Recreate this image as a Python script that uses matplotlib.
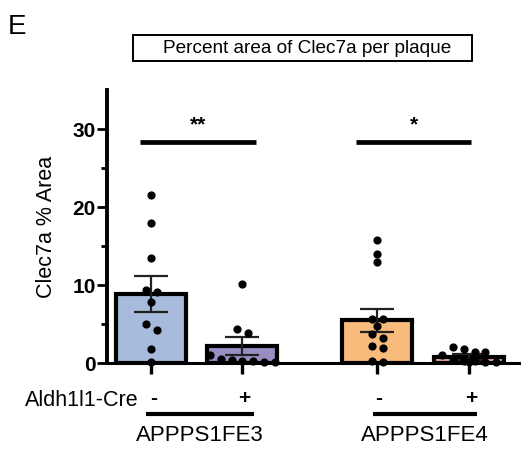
import numpy as np
import matplotlib
matplotlib.use("Agg")
from matplotlib import pyplot as plt
from matplotlib.patches import Rectangle

plt.rcParams['font.family'] = ['Liberation Sans', 'DejaVu Sans']

# data
groups = ["APPPS1FE3", "APPPS1FE4"]
cre = ["-", "+", "-", "+"]
means = [8.9, 2.2, 5.5, 0.8]
sems = [2.3, 1.2, 1.5, 0.4]
pts_fe3_neg = [21.6, 17.9, 13.5, 9.4, 9.1, 7.8, 5.0, 4.2, 1.8, 0.2]
pts_fe3_pos = [10.2, 4.4, 3.9, 1.0, 0.5, 0.4, 0.3, 0.3, 0.2, 0.2]
pts_fe4_neg = [15.8, 14.0, 12.9, 5.7, 5.7, 4.8, 3.7, 3.2, 2.2, 2.0, 0.3, 0.2]
pts_fe4_pos = [2.1, 1.75, 1.45, 1.45, 1.0, 0.4, 0.3, 0.3, 0.2, 0.2, 0.1]
points = [pts_fe3_neg, pts_fe3_pos, pts_fe4_neg, pts_fe4_pos]
stars = ["**", "*"]

colors = ['#A7BCDC', '#9A8DC3', '#F8BB7C', '#EBA7A2']
pos = np.array([0, 1, 2.48, 3.49])


def swarm(vals, gap=0.9, step=0.12):
    # put close values in one row and spread them sideways
    vals = sorted(vals, reverse=True)
    rows = [[vals[0]]]
    for v in vals[1:]:
        if rows[-1][0] - v < gap:
            rows[-1].append(v)
        else:
            rows.append([v])
    xs, ys = [], []
    for r in rows:
        n = len(r)
        offs = (np.arange(n) - (n - 1) / 2) * step
        xs += list(offs)
        ys += r
    return np.array(xs), np.array(ys)


fig = plt.figure(figsize=(5.21, 4.5), dpi=100)
ax = fig.add_axes([0.205, 0.193, 0.795, 0.607])

ax.bar(pos, means, width=0.77, color=colors, edgecolor='k', linewidth=3, zorder=2)
ax.errorbar(pos, means, yerr=sems, fmt='none', ecolor='#222222', elinewidth=1.6,
            capsize=12, capthick=1.6, zorder=3)
for p, vals in zip(pos, points):
    dx, vy = swarm(vals)
    ax.scatter(p + dx, vy, s=24, color='k', zorder=4, clip_on=False)

ax.set_xlim(-0.49, 4.06)
ax.set_ylim(0, 35)
ax.set_yticks([0, 10, 20, 30])
ax.set_yticks([5, 15, 25], minor=True)
ax.set_xticks(pos)
ax.set_xticklabels([])
ax.tick_params(axis='y', which='major', length=7, width=2, labelsize=15, pad=1)
ax.tick_params(axis='y', which='minor', length=4.5, width=2)
ax.tick_params(axis='x', length=8, width=2.4, direction='out')
for lbl in ax.get_yticklabels():
    lbl.set_fontweight('bold')
ax.spines['left'].set_linewidth(2.8)
ax.spines['bottom'].set_linewidth(2.2)
ax.spines['top'].set_visible(False)
ax.spines['right'].set_visible(False)
ax.set_ylabel("Clec7a % Area", fontsize=15.5, labelpad=11)

# significance lines
sig_y = 28.3
for (x0, x1), st in zip([(pos[0] - 0.13, pos[1] + 0.15), (pos[2] - 0.23, pos[3] + 0.02)], stars):
    ax.plot([x0, x1], [sig_y, sig_y], color='k', lw=3.4, solid_capstyle='butt', zorder=3)
    ax.text((x0 + x1) / 2, sig_y + 1.0, st, ha='center', va='bottom', fontsize=15, fontweight='bold')

# labels under the axis
tr = ax.get_xaxis_transform()
ax.text(-0.14, -0.136, "Aldh1l1-Cre", transform=tr, ha='right', va='center', fontsize=15.5)
for p, c in zip(pos, cre):
    ax.text(p + 0.02, -0.128, c, transform=tr, ha='center', va='center', fontsize=15, fontweight='bold')
for (x0, x1), g in zip([(pos[0] - 0.06, pos[1] + 0.13), (pos[2] - 0.05, pos[3] + 0.09)], groups):
    ax.plot([x0, x1], [-0.187, -0.187], transform=tr, color='k', lw=3, clip_on=False,
            solid_capstyle='butt')
    ax.text((x0 + x1) / 2, -0.265, g, transform=tr, ha='center', va='center', fontsize=16)

# title box and panel letter
fig.patches.append(Rectangle((133 / 521, 1 - 61 / 450), 339 / 521, 26 / 450, transform=fig.transFigure,
                             fill=False, edgecolor='k', lw=1.4))
fig.text(307 / 521, 1 - 48.5 / 450, "Percent area of Clec7a per plaque", ha='center', va='center',
         fontsize=13.7)
fig.text(8 / 521, 1 - 27 / 450, "E", ha='left', va='center', fontsize=20)

fig.savefig("out.png", dpi=100)
